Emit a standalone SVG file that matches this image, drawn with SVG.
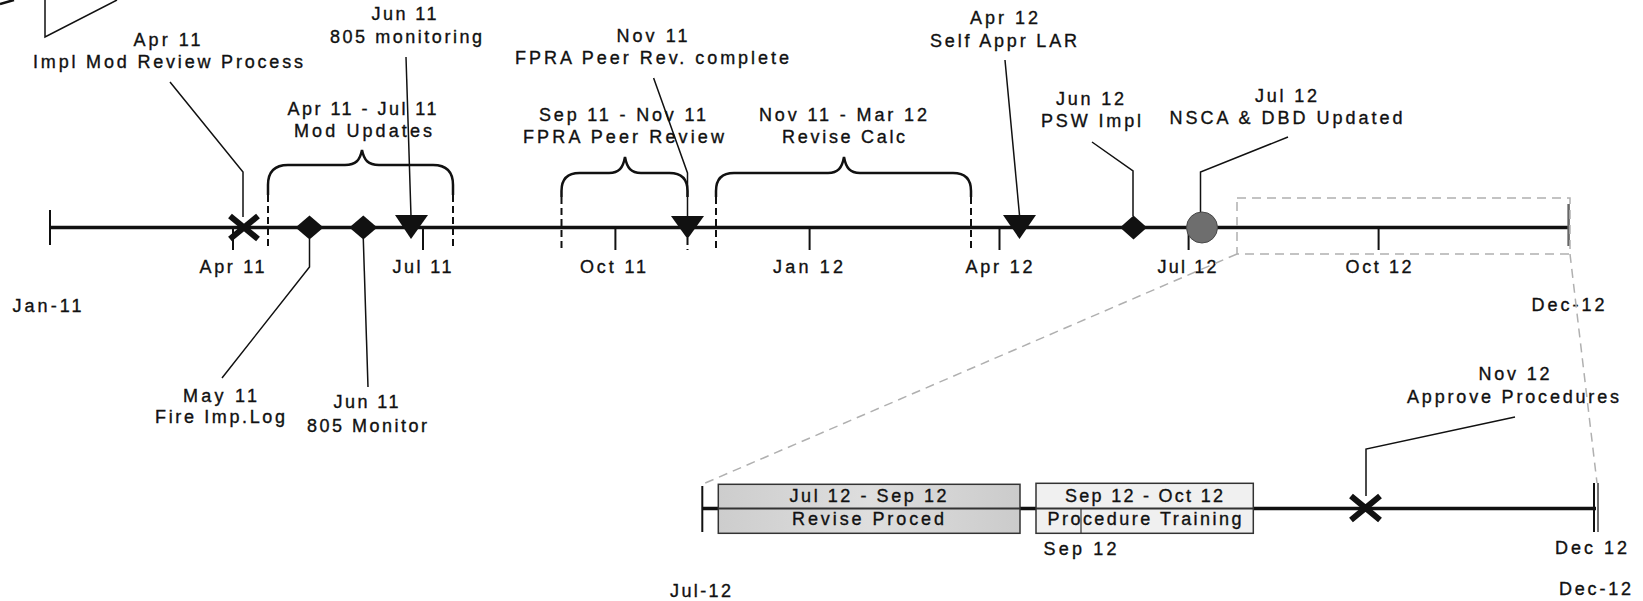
<svg xmlns="http://www.w3.org/2000/svg" width="1643" height="601" viewBox="0 0 1643 601">
<style>
.t{font-family:"Liberation Sans",Arial,sans-serif;font-size:18px;fill:#111;stroke:#111;stroke-width:0.35;text-anchor:middle}
.ax{stroke:#111;stroke-width:3.5;fill:none}
.tk{stroke:#111;stroke-width:2;fill:none}
.ld{stroke:#111;stroke-width:1.5;fill:none}
.br{stroke:#111;stroke-width:2.5;fill:none}
.ds{stroke:#111;stroke-width:2;stroke-dasharray:7 4;fill:none}
.gd{stroke:#b0b0b0;stroke-width:1.5;stroke-dasharray:9 6;fill:none}
.mk{fill:#111}
.x{stroke:#111;stroke-width:6;fill:none}
.box{stroke:#333;stroke-width:1.5}
</style>
<defs>
<linearGradient id="g1" x1="0" y1="0" x2="1" y2="0">
<stop offset="0" stop-color="#cdcdcd"/>
<stop offset="0.5" stop-color="#dedede"/>
<stop offset="1" stop-color="#cbcbcb"/>
</linearGradient>
</defs>

<g id="corner-shape">
<polyline class="ld" points="45,0 45,37 117,0"/>
<line class="br" x1="0" y1="4" x2="14" y2="0"/>
</g>

<g id="main-axis">
<line class="ax" x1="50" y1="227.5" x2="1568.6" y2="227.5"/>
<line class="tk" x1="50" y1="210" x2="50" y2="245"/>
<line x1="1568.6" y1="204" x2="1568.6" y2="246" stroke="#666" stroke-width="2.5"/>
<line class="tk" x1="233" y1="227" x2="233" y2="250"/>
<line class="tk" x1="423" y1="227" x2="423" y2="250"/>
<line class="tk" x1="615.4" y1="227" x2="615.4" y2="250"/>
<line class="tk" x1="809.6" y1="227" x2="809.6" y2="250"/>
<line class="tk" x1="999.5" y1="227" x2="999.5" y2="250"/>
<line class="tk" x1="1188.6" y1="227" x2="1188.6" y2="250"/>
<line class="tk" x1="1378.6" y1="227" x2="1378.6" y2="250"/>
<text class="t" x="232" y="273" textLength="65">Apr 11</text>
<text class="t" x="422" y="273" textLength="59">Jul 11</text>
<text class="t" x="613" y="273" textLength="66">Oct 11</text>
<text class="t" x="808" y="273" textLength="70">Jan 12</text>
<text class="t" x="999" y="273" textLength="67">Apr 12</text>
<text class="t" x="1187" y="273" textLength="59">Jul 12</text>
<text class="t" x="1378.6" y="273" textLength="66">Oct 12</text>
<text class="t" x="47" y="312" textLength="69">Jan-11</text>
<text class="t" x="1568" y="310.7" textLength="73">Dec-12</text>
</g>

<g id="connectors">
<polyline class="ld" points="170,82 243,172 243,217"/>
<line class="ld" x1="406" y1="57" x2="411" y2="216"/>
<polyline class="ld" points="309.5,239 309.5,267 222,378"/>
<line class="ld" x1="363.3" y1="239" x2="368" y2="387"/>
<polyline class="ld" points="653.6,78 687.5,173 687.5,216"/>
<line class="ld" x1="1005" y1="60" x2="1019.5" y2="215"/>
<polyline class="ld" points="1092,142 1133,171 1133,216"/>
<polyline class="ld" points="1288,137 1200.5,172 1200.5,212"/>
<polyline class="ld" points="1515,417 1366,449 1366,496"/>
<rect class="gd" x="1237" y="198" width="333" height="56"/>
<line class="gd" x1="1237" y1="254" x2="703" y2="484"/>
<line class="gd" x1="1570" y1="254" x2="1597" y2="483"/>
</g>

<g id="span-mod-updates">
<path class="br" d="M268,195 L268,185 Q268,165 288,165 L345,165 C356,165 360,160 362,150 C364,160 368,165 379,165 L433,165 Q453,165 453,185 L453,195"/>
<line class="ds" x1="268" y1="195" x2="268" y2="250"/>
<line class="ds" x1="453" y1="195" x2="453" y2="250"/>
<text class="t" x="362" y="115" textLength="149">Apr 11 - Jul 11</text>
<text class="t" x="363" y="137" textLength="138">Mod Updates</text>
</g>

<g id="span-fpra-review">
<path class="br" d="M561.5,197 L561.5,191 Q561.5,173 579.5,173 L609,173 C619,173 623,168 625,157 C627,168 631,173 641,173 L669.5,173 Q687.5,173 687.5,191 L687.5,197"/>
<line class="ds" x1="561.5" y1="197" x2="561.5" y2="250"/>
<line class="ds" x1="687.5" y1="238" x2="687.5" y2="250"/>
<text class="t" x="622.5" y="120.7" textLength="167">Sep 11 - Nov 11</text>
<text class="t" x="623.5" y="143" textLength="201">FPRA Peer Review</text>
</g>

<g id="span-revise-calc">
<path class="br" d="M716,197 L716,191 Q716,173 734,173 L828,173 C838,173 842,168 844,157 C846,168 850,173 860,173 L953,173 Q971,173 971,191 L971,197"/>
<line class="ds" x1="716" y1="197" x2="716" y2="250"/>
<line class="ds" x1="971" y1="197" x2="971" y2="250"/>
<text class="t" x="843" y="120.7" textLength="168">Nov 11 - Mar 12</text>
<text class="t" x="843.6" y="143" textLength="123">Revise Calc</text>
</g>

<g id="ev-apr11">
<path class="x" d="M230,216 L258,239 M258,216 L230,239"/>
<text class="t" x="167" y="45.5" textLength="67">Apr 11</text>
<text class="t" x="168" y="68" textLength="270">Impl Mod Review Process</text>
</g>

<g id="ev-may11">
<polygon class="mk" points="295.5,227.5 309.5,215.5 323.5,227.5 309.5,239.5"/>
<text class="t" x="220" y="402" textLength="74">May 11</text>
<text class="t" x="220" y="423" textLength="130">Fire Imp.Log</text>
</g>

<g id="ev-jun11-monitor">
<polygon class="mk" points="349.3,227.5 363.3,215.5 377.3,227.5 363.3,239.5"/>
<text class="t" x="366" y="408" textLength="65">Jun 11</text>
<text class="t" x="367" y="432" textLength="120">805 Monitor</text>
</g>

<g id="ev-jun11-monitoring">
<polygon class="mk" points="395,215 428,215 411,239"/>
<text class="t" x="404" y="20" textLength="65">Jun 11</text>
<text class="t" x="406" y="43" textLength="152">805 monitoring</text>
</g>

<g id="ev-nov11">
<polygon class="mk" points="671,216 704,216 687.5,239"/>
<text class="t" x="652" y="42" textLength="71">Nov 11</text>
<text class="t" x="652" y="64" textLength="274">FPRA Peer Rev. complete</text>
</g>

<g id="ev-apr12">
<polygon class="mk" points="1003,215 1036,215 1019.5,239"/>
<text class="t" x="1004" y="24" textLength="68">Apr 12</text>
<text class="t" x="1003.5" y="46.7" textLength="147">Self Appr LAR</text>
</g>

<g id="ev-jun12">
<polygon class="mk" points="1120,227.5 1133.5,215.5 1147,227.5 1133.5,239.5"/>
<text class="t" x="1090" y="105" textLength="68">Jun 12</text>
<text class="t" x="1091" y="127" textLength="100">PSW Impl</text>
</g>

<g id="ev-jul12">
<circle cx="1202" cy="227.5" r="15.5" fill="#6e6e6e" stroke="#4a4a4a" stroke-width="1"/>
<text class="t" x="1286" y="102" textLength="62">Jul 12</text>
<text class="t" x="1286" y="124" textLength="233">NSCA &amp; DBD Updated</text>
</g>

<g id="detail-axis">
<line class="ax" x1="702" y1="508.5" x2="1596" y2="508.5"/>
<line class="tk" x1="702.3" y1="486" x2="702.3" y2="532"/>
<line class="tk" x1="1594" y1="483" x2="1594" y2="532"/>
<line x1="1598" y1="483" x2="1598" y2="532" stroke="#111" stroke-width="1.2"/>
<text class="t" x="1080" y="555" textLength="73">Sep 12</text>
<text class="t" x="1591" y="554" textLength="72">Dec 12</text>
<text class="t" x="700.5" y="596.7" textLength="61">Jul-12</text>
<text class="t" x="1595" y="595" textLength="72">Dec-12</text>
</g>

<g id="task-revise-proced">
<rect class="box" x="718.3" y="484.3" width="301.7" height="49" fill="url(#g1)"/>
<line x1="718.3" y1="508.5" x2="1020" y2="508.5" stroke="#333" stroke-width="2"/>
<text class="t" x="868" y="502.3" textLength="157">Jul 12 - Sep 12</text>
<text class="t" x="868" y="525" textLength="152">Revise Proced</text>
</g>

<g id="task-procedure-training">
<rect class="box" x="1036" y="483.3" width="217.3" height="50" fill="#f0f0f0"/>
<line x1="1036" y1="508.5" x2="1253.3" y2="508.5" stroke="#333" stroke-width="2"/>
<line x1="1081" y1="508.5" x2="1081" y2="533" stroke="#333" stroke-width="1.2"/>
<text class="t" x="1144" y="502.3" textLength="158">Sep 12 - Oct 12</text>
<text class="t" x="1144.5" y="525" textLength="194">Procedure Training</text>
</g>

<g id="ev-nov12">
<path class="x" d="M1351,496 L1380,520 M1380,496 L1351,520"/>
<text class="t" x="1514" y="380" textLength="71">Nov 12</text>
<text class="t" x="1513" y="403" textLength="212">Approve Procedures</text>
</g>
</svg>
